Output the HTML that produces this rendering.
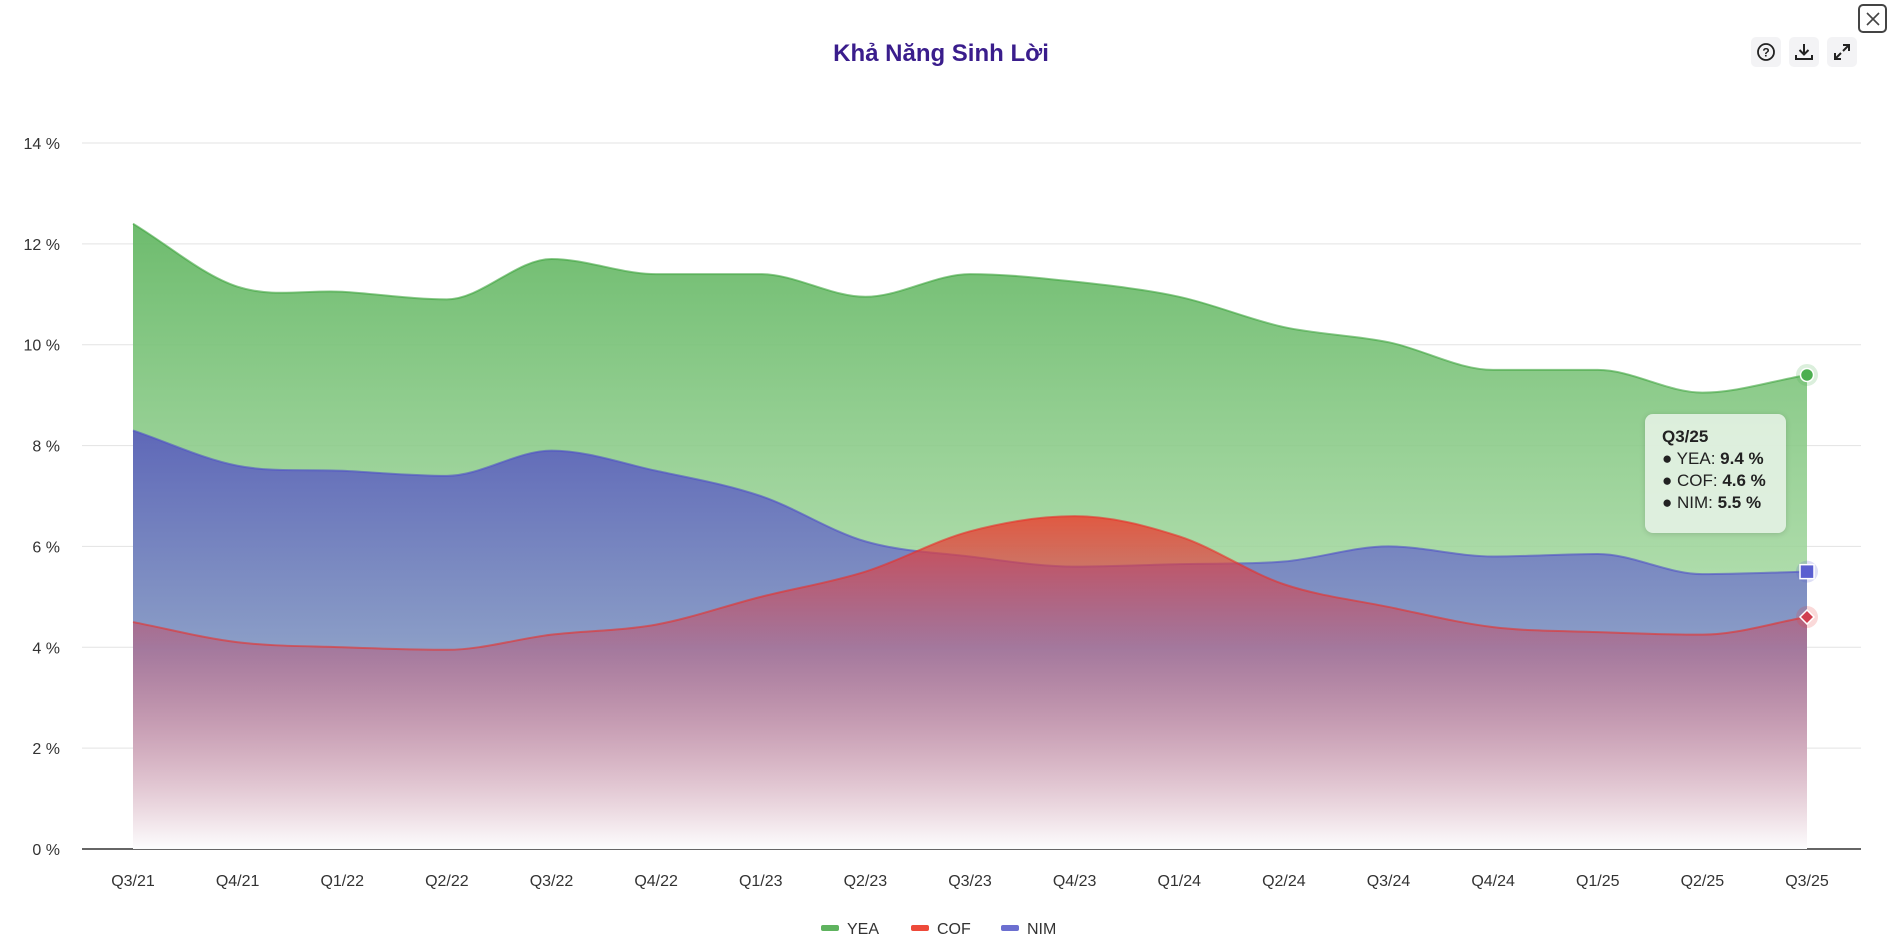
<!DOCTYPE html>
<html><head><meta charset="utf-8"><style>
html,body{margin:0;padding:0;background:#fff;width:1898px;height:948px;overflow:hidden;font-family:"Liberation Sans",sans-serif}
.btn{position:absolute;width:30px;height:30px;background:#f3f3f5;border-radius:5px;display:flex;align-items:center;justify-content:center}
</style></head><body>
<div style="position:absolute;left:0;width:1882px;top:40px;text-align:center;font-size:24px;font-weight:bold;color:#3a1d8c">Khả Năng Sinh Lời</div>
<div class="btn" style="left:1751px;top:37px"><svg width="22" height="22"><circle cx="11" cy="11" r="8" fill="none" stroke="#222" stroke-width="1.8"/><text x="11" y="15.5" font-size="12" font-weight="bold" text-anchor="middle" fill="#222">?</text></svg></div>
<div class="btn" style="left:1789px;top:37px"><svg width="22" height="22"><path d="M11 3v10M6.5 9l4.5 4.5 4.5-4.5M3 14v4h16v-4" fill="none" stroke="#222" stroke-width="2"/></svg></div>
<div class="btn" style="left:1827px;top:37px"><svg width="22" height="22"><path d="M12 4h6v6M18 4l-6 6M10 18H4v-6M4 18l6-6" fill="none" stroke="#222" stroke-width="2"/></svg></div>
<div style="position:absolute;left:1858px;top:4px;width:25px;height:25px;border:2px solid #444;border-radius:5px;display:flex;align-items:center;justify-content:center"><svg width="16" height="16"><path d="M2 2l12 12M14 2L2 14" stroke="#444" stroke-width="1.6"/></svg></div>
<svg id="chart" width="1898" height="948" style="position:absolute;left:0;top:0">
<defs>
<linearGradient id="gY" x1="0" y1="0" x2="0" y2="1"><stop offset="0" stop-color="#66b866" stop-opacity="0.95"/><stop offset="0.6" stop-color="#a4d8a0" stop-opacity="0.85"/><stop offset="1" stop-color="#d8f0d4" stop-opacity="0.6"/></linearGradient>
<linearGradient id="gN" x1="0" y1="0" x2="0" y2="1"><stop offset="0" stop-color="#5a5fbb" stop-opacity="0.92"/><stop offset="0.5" stop-color="#8494c8" stop-opacity="0.9"/><stop offset="1" stop-color="#c0c8e4" stop-opacity="0.6"/></linearGradient>
<linearGradient id="gC" x1="0" y1="0" x2="0" y2="1"><stop offset="0" stop-color="#f03a2a" stop-opacity="0.8"/><stop offset="0.4" stop-color="#c04a6a" stop-opacity="0.45"/><stop offset="1" stop-color="#ffffff" stop-opacity="0.95"/></linearGradient>
</defs>
<g id="grid"></g><g id="areas"></g><g id="axes"></g>
</svg>
<div style="position:absolute;left:1645px;top:414px;width:141px;height:119px;background:rgba(228,242,228,0.9);border-radius:8px;box-shadow:0 1px 6px rgba(0,0,0,0.15);font-size:17px;color:#222;line-height:22px;padding:12px 0 0 17px;box-sizing:border-box">
<b>Q3/25</b><br>● YEA: <b>9.4 %</b><br>● COF: <b>4.6 %</b><br>● NIM: <b>5.5 %</b></div>
<script>
const categories=["Q3/21","Q4/21","Q1/22","Q2/22","Q3/22","Q4/22","Q1/23","Q2/23","Q3/23","Q4/23","Q1/24","Q2/24","Q3/24","Q4/24","Q1/25","Q2/25","Q3/25"];
const yeaValues=[12.4,11.15,11.05,10.9,11.7,11.4,11.4,10.95,11.4,11.25,10.95,10.35,10.05,9.5,9.5,9.05,9.4];
const nimValues=[8.3,7.6,7.5,7.4,7.9,7.5,7.0,6.1,5.8,5.6,5.65,5.7,6.0,5.8,5.85,5.45,5.5];
const cofValues=[4.5,4.1,4.0,3.95,4.25,4.45,5.0,5.5,6.3,6.6,6.2,5.25,4.8,4.4,4.3,4.25,4.6];
const yTicks=[0,2,4,6,8,10,12,14];
const legendItems=["YEA","COF","NIM"];
const NS="http://www.w3.org/2000/svg";
const L=82,R=1861,T=143,B=849,X0=133,X1=1807;
const xs=i=>X0+i*(X1-X0)/(categories.length-1);
const ys=v=>B-(v/14)*(B-T);
function mk(t,a,p){const e=document.createElementNS(NS,t);for(const k in a)e.setAttribute(k,a[k]);(p||document.getElementById('chart')).appendChild(e);return e;}
const grid=document.getElementById('grid'),axes=document.getElementById('axes'),areas=document.getElementById('areas');
yTicks.forEach(v=>{
 const l=mk('line',{x1:L,x2:R,y1:ys(v),y2:ys(v),stroke:v===0?'#333':'#e3e3e3','stroke-width':v===0?1.5:1},grid);
 
 
 const t=mk('text',{x:60,y:ys(v)+6,'text-anchor':'end','font-size':16,fill:'#333'},axes);
 t.textContent=v+' %';
 
 
});
categories.forEach((c,i)=>{
 const t=mk('text',{x:xs(i),y:886,'text-anchor':'middle','font-size':16,fill:'#333'},axes);
 t.textContent=c;
 
 
});
function smooth(vals){
 const n=vals.length,P=vals.map((v,i)=>[xs(i),ys(v)]);
 const d=[],m=[];
 for(let i=0;i<n-1;i++)d.push((P[i+1][1]-P[i][1])/(P[i+1][0]-P[i][0]));
 for(let i=0;i<n;i++){
  if(i===0)m.push(d[0]);else if(i===n-1)m.push(d[n-2]);
  else m.push(d[i-1]*d[i]<=0?0:(d[i-1]+d[i])/2);
 }
 let s='M'+P[0][0]+','+P[0][1];
 for(let i=0;i<n-1;i++){const h=(P[i+1][0]-P[i][0])/3;
  s+=' C'+(P[i][0]+h)+','+(P[i][1]+m[i]*h)+' '+(P[i+1][0]-h)+','+(P[i+1][1]-m[i+1]*h)+' '+P[i+1][0]+','+P[i+1][1];}
 return s;
}
function series(vals,fill,stroke,name){
 const line=smooth(vals);
 const a=mk('path',{d:line+' L'+X1+','+B+' L'+X0+','+B+' Z',fill:fill},areas);
 
 
 const l=mk('path',{d:line,fill:'none',stroke:stroke,'stroke-width':2,'stroke-opacity':0.6},areas);
 
 
}
series(yeaValues,'url(#gY)','#3ea43e','yea');
series(nimValues,'url(#gN)','#4e4fc8','nim');
series(cofValues,'url(#gC)','#e8302a','cof');
const last=categories.length-1;
mk('circle',{cx:xs(last),cy:ys(yeaValues[last]),r:11,fill:'#4caf50','fill-opacity':0.2},areas);
let m=mk('circle',{cx:xs(last),cy:ys(yeaValues[last]),r:6.5,fill:'#4caf50',stroke:'#fff','stroke-width':1.5},areas);


mk('circle',{cx:xs(last),cy:ys(nimValues[last]),r:11,fill:'#5a5fd0','fill-opacity':0.2},areas);
m=mk('rect',{x:xs(last)-7,y:ys(nimValues[last])-7,width:14,height:14,fill:'#5a5fd0',stroke:'#fff','stroke-width':1.5},areas);


mk('circle',{cx:xs(last),cy:ys(cofValues[last]),r:11,fill:'#e84040','fill-opacity':0.2},areas);
m=mk('path',{d:'M'+xs(last)+','+(ys(cofValues[last])-7)+' l7,7 l-7,7 l-7,-7z',fill:'#d04050',stroke:'#fff','stroke-width':1.5},areas);


const legCol={YEA:'#5fb35f',COF:'#ee4a3a',NIM:'#6c6fd0'};
const legX=[821,911,1001];
legendItems.forEach((k,i)=>{
 const g=mk('g',{},axes);
 
 
 mk('rect',{x:legX[i],y:925,width:18,height:6,rx:2,fill:legCol[k]},g);
 const t=mk('text',{x:legX[i]+26,y:934,'font-size':16,fill:'#333'},g);
 t.textContent=k;
});
</script>
</body></html>
